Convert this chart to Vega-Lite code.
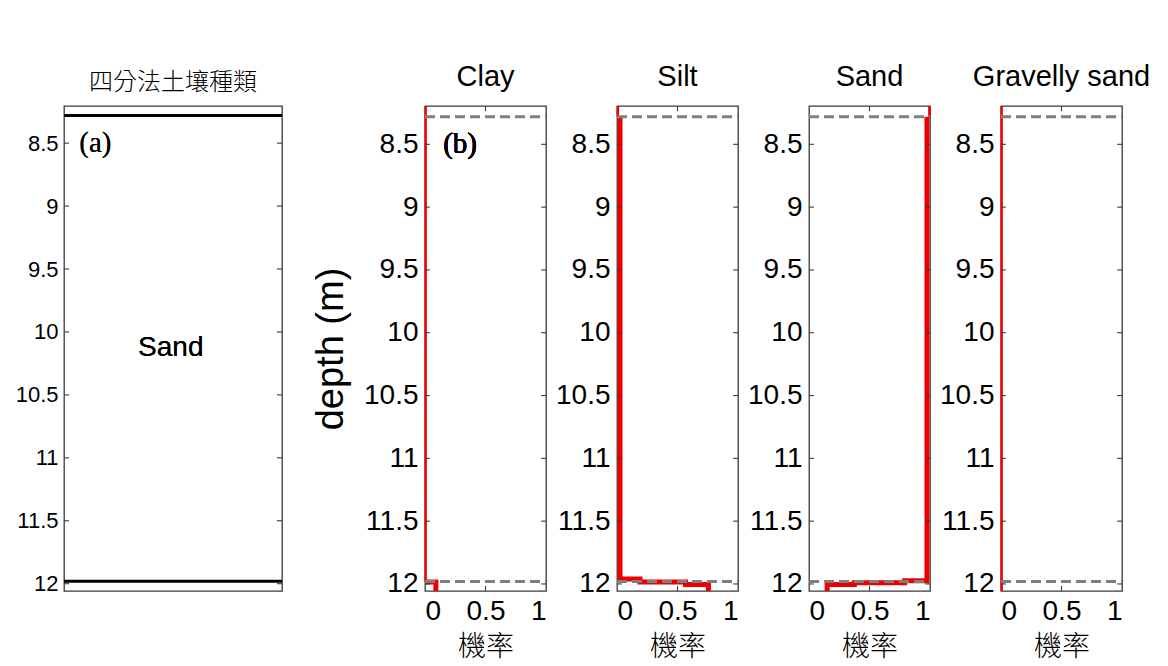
{
  "$schema": "https://vega.github.io/schema/vega-lite/v6.json",
  "padding": {"left": 14, "top": 62, "right": 5, "bottom": 5},
  "background": "white",
  "datasets": {
    "bounds": [{"depth": 8.28}, {"depth": 11.98}],
    "depthTicks": [{"depth": 8.5}, {"depth": 9}, {"depth": 9.5}, {"depth": 10}, {"depth": 10.5}, {"depth": 11}, {"depth": 11.5}, {"depth": 12}],
    "probTicks": [{"p": 0.5}],
    "profiles": [
      {"soil": "Clay", "part": "cap", "i": 1, "depth": 8.195, "p": 0.005},
      {"soil": "Clay", "part": "cap", "i": 2, "depth": 8.28, "p": 0.005},
      {"soil": "Clay", "part": "body", "i": 3, "depth": 8.28, "p": 0.005},
      {"soil": "Clay", "part": "body", "i": 4, "depth": 11.985, "p": 0.005},
      {"soil": "Clay", "part": "toe", "i": 5, "depth": 11.985, "p": 0.005},
      {"soil": "Clay", "part": "toe", "i": 6, "depth": 11.985, "p": 0.09},
      {"soil": "Clay", "part": "toe", "i": 7, "depth": 12.056, "p": 0.09},
      {"soil": "Silt", "part": "cap", "i": 1, "depth": 8.195, "p": 0.007},
      {"soil": "Silt", "part": "cap", "i": 2, "depth": 8.28, "p": 0.007},
      {"soil": "Silt", "part": "body", "i": 3, "depth": 8.28, "p": 0.025},
      {"soil": "Silt", "part": "body", "i": 4, "depth": 11.96, "p": 0.025},
      {"soil": "Silt", "part": "body", "i": 5, "depth": 11.96, "p": 0.19},
      {"soil": "Silt", "part": "body", "i": 6, "depth": 11.985, "p": 0.19},
      {"soil": "Silt", "part": "body", "i": 7, "depth": 11.985, "p": 0.566},
      {"soil": "Silt", "part": "body", "i": 8, "depth": 12.005, "p": 0.566},
      {"soil": "Silt", "part": "body", "i": 9, "depth": 12.005, "p": 0.756},
      {"soil": "Silt", "part": "body", "i": 10, "depth": 12.056, "p": 0.756},
      {"soil": "Sand", "part": "cap", "i": 1, "depth": 8.195, "p": 0.995},
      {"soil": "Sand", "part": "cap", "i": 2, "depth": 8.28, "p": 0.995},
      {"soil": "Sand", "part": "body", "i": 3, "depth": 8.28, "p": 0.975},
      {"soil": "Sand", "part": "body", "i": 4, "depth": 11.975, "p": 0.975},
      {"soil": "Sand", "part": "body", "i": 5, "depth": 11.975, "p": 0.79},
      {"soil": "Sand", "part": "body", "i": 6, "depth": 11.99, "p": 0.79},
      {"soil": "Sand", "part": "body", "i": 7, "depth": 11.99, "p": 0.375},
      {"soil": "Sand", "part": "body", "i": 8, "depth": 12.005, "p": 0.375},
      {"soil": "Sand", "part": "body", "i": 9, "depth": 12.005, "p": 0.15},
      {"soil": "Sand", "part": "body", "i": 10, "depth": 12.056, "p": 0.15},
      {"soil": "Gravelly sand", "part": "body", "i": 1, "depth": 8.195, "p": 0.005},
      {"soil": "Gravelly sand", "part": "body", "i": 2, "depth": 12.056, "p": 0.005}
    ]
  },
  "config": {
    "font": "Liberation Sans",
    "view": {"stroke": "#3a3a3a", "strokeWidth": 1.3},
    "axis": {"grid": false, "domain": false, "ticks": false, "labelColor": "#000000", "labelFont": "Liberation Sans", "titleColor": "#000000", "titleFontWeight": "normal"},
    "title": {"color": "#000000", "fontWeight": "normal", "anchor": "middle"},
    "rule": {"color": "#3a3a3a", "strokeWidth": 1.1}
  },
  "bounds": "flush",
  "spacing": 71,
  "hconcat": [
    {
      "width": 218,
      "height": 485,
      "title": {"text": "四分法土壤種類", "font": "Noto Sans CJK TC", "fontSize": 24, "fontWeight": 300, "offset": 11},
      "data": {"name": "bounds"},
      "layer": [
        {
          "mark": {"type": "rule", "color": "#000000", "strokeWidth": 3},
          "encoding": {
            "x": {"datum": 0, "type": "quantitative", "scale": {"domain": [0, 1], "nice": false}, "axis": null},
            "x2": {"datum": 1},
            "y": {"field": "depth", "type": "quantitative", "scale": {"domain": [8.205, 12.058], "reverse": true, "nice": false, "zero": false},
              "axis": {"orient": "left", "title": null, "values": [8.5, 9, 9.5, 10, 10.5, 11, 11.5, 12], "format": "~g", "labelFontSize": 22, "labelPadding": 6}}
          }
        },
        {
          "data": {"name": "depthTicks"},
          "mark": {"type": "rule"},
          "encoding": {"x": {"datum": 0, "type": "quantitative"}, "x2": {"datum": 0.023}, "y": {"field": "depth", "type": "quantitative"}}
        },
        {
          "data": {"name": "depthTicks"},
          "mark": {"type": "rule"},
          "encoding": {"x": {"datum": 0.977, "type": "quantitative"}, "x2": {"datum": 1}, "y": {"field": "depth", "type": "quantitative"}}
        },
        {
          "mark": {"type": "text", "font": "Liberation Serif", "fontWeight": "normal", "fontSize": 29, "align": "left", "baseline": "middle", "text": "(a)"},
          "encoding": {
            "x": {"datum": 0.07, "type": "quantitative"},
            "y": {"datum": 8.5, "type": "quantitative"}
          }
        },
        {
          "mark": {"type": "text", "font": "Liberation Sans", "fontSize": 28, "align": "center", "baseline": "middle", "text": "Sand"},
          "encoding": {
            "x": {"datum": 0.49, "type": "quantitative"},
            "y": {"datum": 10.13, "type": "quantitative"}
          }
        }
      ]
    },
    {
      "width": 1,
      "height": 485,
      "data": {"values": [{"k": 0}]},
      "mark": {"type": "point", "opacity": 0},
      "encoding": {},
      "view": {"stroke": null}
    },
    {
      "width": 121, "height": 485,
      "title": {"text": "Clay", "fontSize": 29, "offset": 9},
      "data": {"name": "profiles"},
      "transform": [{"filter": "datum.soil === 'Clay'"}],
      "layer": [
        {
          "transform": [{"filter": "datum.part !== 'toe'"}],
          "mark": {"type": "line", "color": "#ee0000", "strokeWidth": 2.5},
          "encoding": {
            "x": {"field": "p", "type": "quantitative", "scale": {"domain": [0, 1], "nice": false},
              "axis": {"orient": "bottom", "title": "機率", "titleFont": "Noto Sans CJK TC", "titleFontSize": 28, "titleFontWeight": 300, "titlePadding": 8, "values": [0, 0.5, 1], "format": "~g", "labelFontSize": 28, "labelPadding": 6}},
            "y": {"field": "depth", "type": "quantitative", "scale": {"domain": [8.195, 12.056], "reverse": true, "nice": false, "zero": false},
              "axis": {"orient": "left", "title": "depth (m)", "titleFontSize": 38, "titlePadding": 13, "values": [8.5, 9, 9.5, 10, 10.5, 11, 11.5, 12], "format": "~g", "labelFontSize": 28, "labelPadding": 7}},
            "order": {"field": "i", "type": "quantitative"}
          }
        },
        {
          "transform": [{"filter": "datum.part === 'toe'"}],
          "mark": {"type": "line", "color": "#ee0000", "strokeWidth": 5},
          "encoding": {
            "x": {"field": "p", "type": "quantitative"},
            "y": {"field": "depth", "type": "quantitative"},
            "order": {"field": "i", "type": "quantitative"}
          }
        },
        {
          "data": {"name": "depthTicks"},
          "mark": {"type": "rule"},
          "encoding": {"x": {"datum": 0, "type": "quantitative"}, "x2": {"datum": 0.04}, "y": {"field": "depth", "type": "quantitative"}}
        },
        {
          "data": {"name": "depthTicks"},
          "mark": {"type": "rule"},
          "encoding": {"x": {"datum": 0.96, "type": "quantitative"}, "x2": {"datum": 1}, "y": {"field": "depth", "type": "quantitative"}}
        },
        {
          "data": {"name": "probTicks"},
          "mark": {"type": "rule"},
          "encoding": {"x": {"field": "p", "type": "quantitative"}, "y": {"datum": 8.195, "type": "quantitative"}, "y2": {"datum": 8.235}}
        },
        {
          "data": {"name": "probTicks"},
          "mark": {"type": "rule"},
          "encoding": {"x": {"field": "p", "type": "quantitative"}, "y": {"datum": 12.016, "type": "quantitative"}, "y2": {"datum": 12.056}}
        },
        {
          "data": {"name": "bounds"},
          "mark": {"type": "rule", "color": "#7f7f7f", "strokeWidth": 3, "strokeDash": [10, 5]},
          "encoding": {
            "x": {"datum": 0, "type": "quantitative"},
            "x2": {"datum": 1},
            "y": {"field": "depth", "type": "quantitative"}
          }
        },
        {
          "mark": {"type": "text", "font": "Liberation Serif", "fontWeight": "normal", "fontSize": 29, "align": "left", "baseline": "middle", "text": "(b)"},
          "encoding": {
            "x": {"datum": 0.15, "type": "quantitative"},
            "y": {"datum": 8.5, "type": "quantitative"}
          }
        }
      ]
    },
    {
      "width": 121, "height": 485,
      "title": {"text": "Silt", "fontSize": 29, "offset": 9},
      "data": {"name": "profiles"},
      "transform": [{"filter": "datum.soil === 'Silt'"}],
      "layer": [
        {
          "transform": [{"filter": "datum.part === 'cap'"}],
          "mark": {"type": "line", "color": "#ee0000", "strokeWidth": 2.5},
          "encoding": {
            "x": {"field": "p", "type": "quantitative", "scale": {"domain": [0, 1], "nice": false},
              "axis": {"orient": "bottom", "title": "機率", "titleFont": "Noto Sans CJK TC", "titleFontSize": 28, "titleFontWeight": 300, "titlePadding": 8, "values": [0, 0.5, 1], "format": "~g", "labelFontSize": 28, "labelPadding": 6}},
            "y": {"field": "depth", "type": "quantitative", "scale": {"domain": [8.195, 12.056], "reverse": true, "nice": false, "zero": false},
              "axis": {"orient": "left", "title": null, "values": [8.5, 9, 9.5, 10, 10.5, 11, 11.5, 12], "format": "~g", "labelFontSize": 28, "labelPadding": 7}},
            "order": {"field": "i", "type": "quantitative"}
          }
        },
        {
          "transform": [{"filter": "datum.part === 'body'"}],
          "mark": {"type": "line", "color": "#ee0000", "strokeWidth": 5},
          "encoding": {
            "x": {"field": "p", "type": "quantitative"},
            "y": {"field": "depth", "type": "quantitative"},
            "order": {"field": "i", "type": "quantitative"}
          }
        },
        {
          "data": {"name": "depthTicks"},
          "mark": {"type": "rule"},
          "encoding": {"x": {"datum": 0, "type": "quantitative"}, "x2": {"datum": 0.04}, "y": {"field": "depth", "type": "quantitative"}}
        },
        {
          "data": {"name": "depthTicks"},
          "mark": {"type": "rule"},
          "encoding": {"x": {"datum": 0.96, "type": "quantitative"}, "x2": {"datum": 1}, "y": {"field": "depth", "type": "quantitative"}}
        },
        {
          "data": {"name": "probTicks"},
          "mark": {"type": "rule"},
          "encoding": {"x": {"field": "p", "type": "quantitative"}, "y": {"datum": 8.195, "type": "quantitative"}, "y2": {"datum": 8.235}}
        },
        {
          "data": {"name": "probTicks"},
          "mark": {"type": "rule"},
          "encoding": {"x": {"field": "p", "type": "quantitative"}, "y": {"datum": 12.016, "type": "quantitative"}, "y2": {"datum": 12.056}}
        },
        {
          "data": {"name": "bounds"},
          "mark": {"type": "rule", "color": "#7f7f7f", "strokeWidth": 3, "strokeDash": [10, 5]},
          "encoding": {
            "x": {"datum": 0, "type": "quantitative"},
            "x2": {"datum": 1},
            "y": {"field": "depth", "type": "quantitative"}
          }
        }
      ]
    },
    {
      "width": 121, "height": 485,
      "title": {"text": "Sand", "fontSize": 29, "offset": 9},
      "data": {"name": "profiles"},
      "transform": [{"filter": "datum.soil === 'Sand'"}],
      "layer": [
        {
          "transform": [{"filter": "datum.part === 'cap'"}],
          "mark": {"type": "line", "color": "#ee0000", "strokeWidth": 2.5},
          "encoding": {
            "x": {"field": "p", "type": "quantitative", "scale": {"domain": [0, 1], "nice": false},
              "axis": {"orient": "bottom", "title": "機率", "titleFont": "Noto Sans CJK TC", "titleFontSize": 28, "titleFontWeight": 300, "titlePadding": 8, "values": [0, 0.5, 1], "format": "~g", "labelFontSize": 28, "labelPadding": 6}},
            "y": {"field": "depth", "type": "quantitative", "scale": {"domain": [8.195, 12.056], "reverse": true, "nice": false, "zero": false},
              "axis": {"orient": "left", "title": null, "values": [8.5, 9, 9.5, 10, 10.5, 11, 11.5, 12], "format": "~g", "labelFontSize": 28, "labelPadding": 7}},
            "order": {"field": "i", "type": "quantitative"}
          }
        },
        {
          "transform": [{"filter": "datum.part === 'body'"}],
          "mark": {"type": "line", "color": "#ee0000", "strokeWidth": 5},
          "encoding": {
            "x": {"field": "p", "type": "quantitative"},
            "y": {"field": "depth", "type": "quantitative"},
            "order": {"field": "i", "type": "quantitative"}
          }
        },
        {
          "data": {"name": "depthTicks"},
          "mark": {"type": "rule"},
          "encoding": {"x": {"datum": 0, "type": "quantitative"}, "x2": {"datum": 0.04}, "y": {"field": "depth", "type": "quantitative"}}
        },
        {
          "data": {"name": "depthTicks"},
          "mark": {"type": "rule"},
          "encoding": {"x": {"datum": 0.96, "type": "quantitative"}, "x2": {"datum": 1}, "y": {"field": "depth", "type": "quantitative"}}
        },
        {
          "data": {"name": "probTicks"},
          "mark": {"type": "rule"},
          "encoding": {"x": {"field": "p", "type": "quantitative"}, "y": {"datum": 8.195, "type": "quantitative"}, "y2": {"datum": 8.235}}
        },
        {
          "data": {"name": "probTicks"},
          "mark": {"type": "rule"},
          "encoding": {"x": {"field": "p", "type": "quantitative"}, "y": {"datum": 12.016, "type": "quantitative"}, "y2": {"datum": 12.056}}
        },
        {
          "data": {"name": "bounds"},
          "mark": {"type": "rule", "color": "#7f7f7f", "strokeWidth": 3, "strokeDash": [10, 5]},
          "encoding": {
            "x": {"datum": 0, "type": "quantitative"},
            "x2": {"datum": 1},
            "y": {"field": "depth", "type": "quantitative"}
          }
        }
      ]
    },
    {
      "width": 121, "height": 485,
      "title": {"text": "Gravelly sand", "fontSize": 29, "offset": 9},
      "data": {"name": "profiles"},
      "transform": [{"filter": "datum.soil === 'Gravelly sand'"}],
      "layer": [
        {
          "mark": {"type": "line", "color": "#ee0000", "strokeWidth": 2.5},
          "encoding": {
            "x": {"field": "p", "type": "quantitative", "scale": {"domain": [0, 1], "nice": false},
              "axis": {"orient": "bottom", "title": "機率", "titleFont": "Noto Sans CJK TC", "titleFontSize": 28, "titleFontWeight": 300, "titlePadding": 8, "values": [0, 0.5, 1], "format": "~g", "labelFontSize": 28, "labelPadding": 6}},
            "y": {"field": "depth", "type": "quantitative", "scale": {"domain": [8.195, 12.056], "reverse": true, "nice": false, "zero": false},
              "axis": {"orient": "left", "title": null, "values": [8.5, 9, 9.5, 10, 10.5, 11, 11.5, 12], "format": "~g", "labelFontSize": 28, "labelPadding": 7}},
            "order": {"field": "i", "type": "quantitative"}
          }
        },
        {
          "data": {"name": "depthTicks"},
          "mark": {"type": "rule"},
          "encoding": {"x": {"datum": 0, "type": "quantitative"}, "x2": {"datum": 0.04}, "y": {"field": "depth", "type": "quantitative"}}
        },
        {
          "data": {"name": "depthTicks"},
          "mark": {"type": "rule"},
          "encoding": {"x": {"datum": 0.96, "type": "quantitative"}, "x2": {"datum": 1}, "y": {"field": "depth", "type": "quantitative"}}
        },
        {
          "data": {"name": "probTicks"},
          "mark": {"type": "rule"},
          "encoding": {"x": {"field": "p", "type": "quantitative"}, "y": {"datum": 8.195, "type": "quantitative"}, "y2": {"datum": 8.235}}
        },
        {
          "data": {"name": "probTicks"},
          "mark": {"type": "rule"},
          "encoding": {"x": {"field": "p", "type": "quantitative"}, "y": {"datum": 12.016, "type": "quantitative"}, "y2": {"datum": 12.056}}
        },
        {
          "data": {"name": "bounds"},
          "mark": {"type": "rule", "color": "#7f7f7f", "strokeWidth": 3, "strokeDash": [10, 5]},
          "encoding": {
            "x": {"datum": 0, "type": "quantitative"},
            "x2": {"datum": 1},
            "y": {"field": "depth", "type": "quantitative"}
          }
        }
      ]
    }
  ]
}
